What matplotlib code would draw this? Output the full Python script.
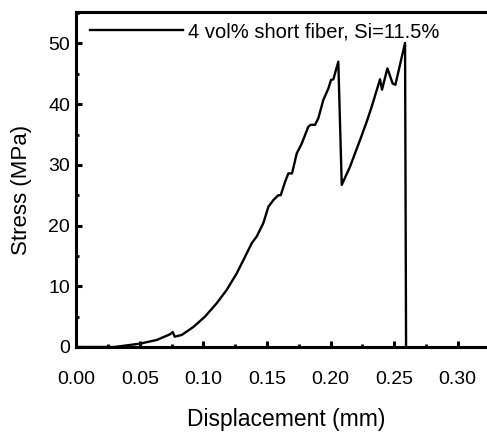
import matplotlib
matplotlib.use("Agg")
import matplotlib.pyplot as plt
from matplotlib.ticker import MultipleLocator, FormatStrFormatter

plt.rcParams['font.family'] = ['Liberation Sans', 'DejaVu Sans']

displacement = [0.000, 0.030, 0.0501, 0.0632, 0.0737, 0.0758, 0.0774, 0.0829, 0.0921,
                0.1012, 0.1104, 0.1183, 0.1261, 0.1314, 0.1380, 0.1419, 0.1471,
                0.1511, 0.1550, 0.1589, 0.1608, 0.1642, 0.1668, 0.1697, 0.1734,
                0.1773, 0.1825, 0.1844, 0.1878, 0.1904, 0.1943, 0.1983, 0.2004,
                0.2022, 0.2061, 0.2088, 0.2153, 0.2232, 0.2284, 0.2324, 0.2389,
                0.2405, 0.2447, 0.2489, 0.2510, 0.2586, 0.2594]
stress = [0.0, 0.0, 0.55, 1.15, 2.09, 2.47, 1.70, 1.98, 3.3,
          5.0, 7.2, 9.4, 12.1, 14.3, 17.1, 18.2, 20.4,
          23.1, 24.2, 25.0, 25.0, 27.2, 28.6, 28.6, 31.9,
          33.5, 36.3, 36.6, 36.6, 37.7, 40.7, 42.6, 44.0,
          44.1, 47.0, 26.7, 29.7, 34.1, 37.1, 39.6, 44.1,
          42.4, 45.9, 43.4, 43.2, 50.1, 0.0]
series_label = "4 vol% short fiber, Si=11.5%"

fig = plt.figure(figsize=(4.87, 4.34), dpi=100)
ax = fig.add_axes([0.1567, 0.2005, 0.8614, 0.772])

ax.plot(displacement, stress, color='black', lw=1.7, label=series_label)

ax.set_xlim(0, 0.33)
ax.set_ylim(0, 55.2)
ax.xaxis.set_major_locator(MultipleLocator(0.05))
ax.xaxis.set_minor_locator(MultipleLocator(0.025))
ax.yaxis.set_major_locator(MultipleLocator(10))
ax.yaxis.set_minor_locator(MultipleLocator(5))
ax.xaxis.set_major_formatter(FormatStrFormatter('%.2f'))

for s in ax.spines.values():
    s.set_linewidth(2.2)

ax.tick_params(which='major', direction='in', length=4, width=2.2, colors='black')
ax.tick_params(which='minor', direction='in', length=2.5, width=2.0)
ax.tick_params(axis='x', which='major', pad=17.5, labelsize=14)
ax.tick_params(axis='y', which='major', pad=4.5, labelsize=14)

ax.set_xlabel('Displacement (mm)', fontsize=16.5, labelpad=14)
ax.set_ylabel('Stress (MPa)', fontsize=16)
ax.yaxis.set_label_coords(-0.105, 0.469)

leg = ax.legend(loc='upper left', frameon=False, fontsize=14.5,
                handlelength=4.57, handletextpad=0.25,
                bbox_to_anchor=(0.005, 1.005), borderaxespad=0.2)

fig.savefig('out.png', dpi=100)
